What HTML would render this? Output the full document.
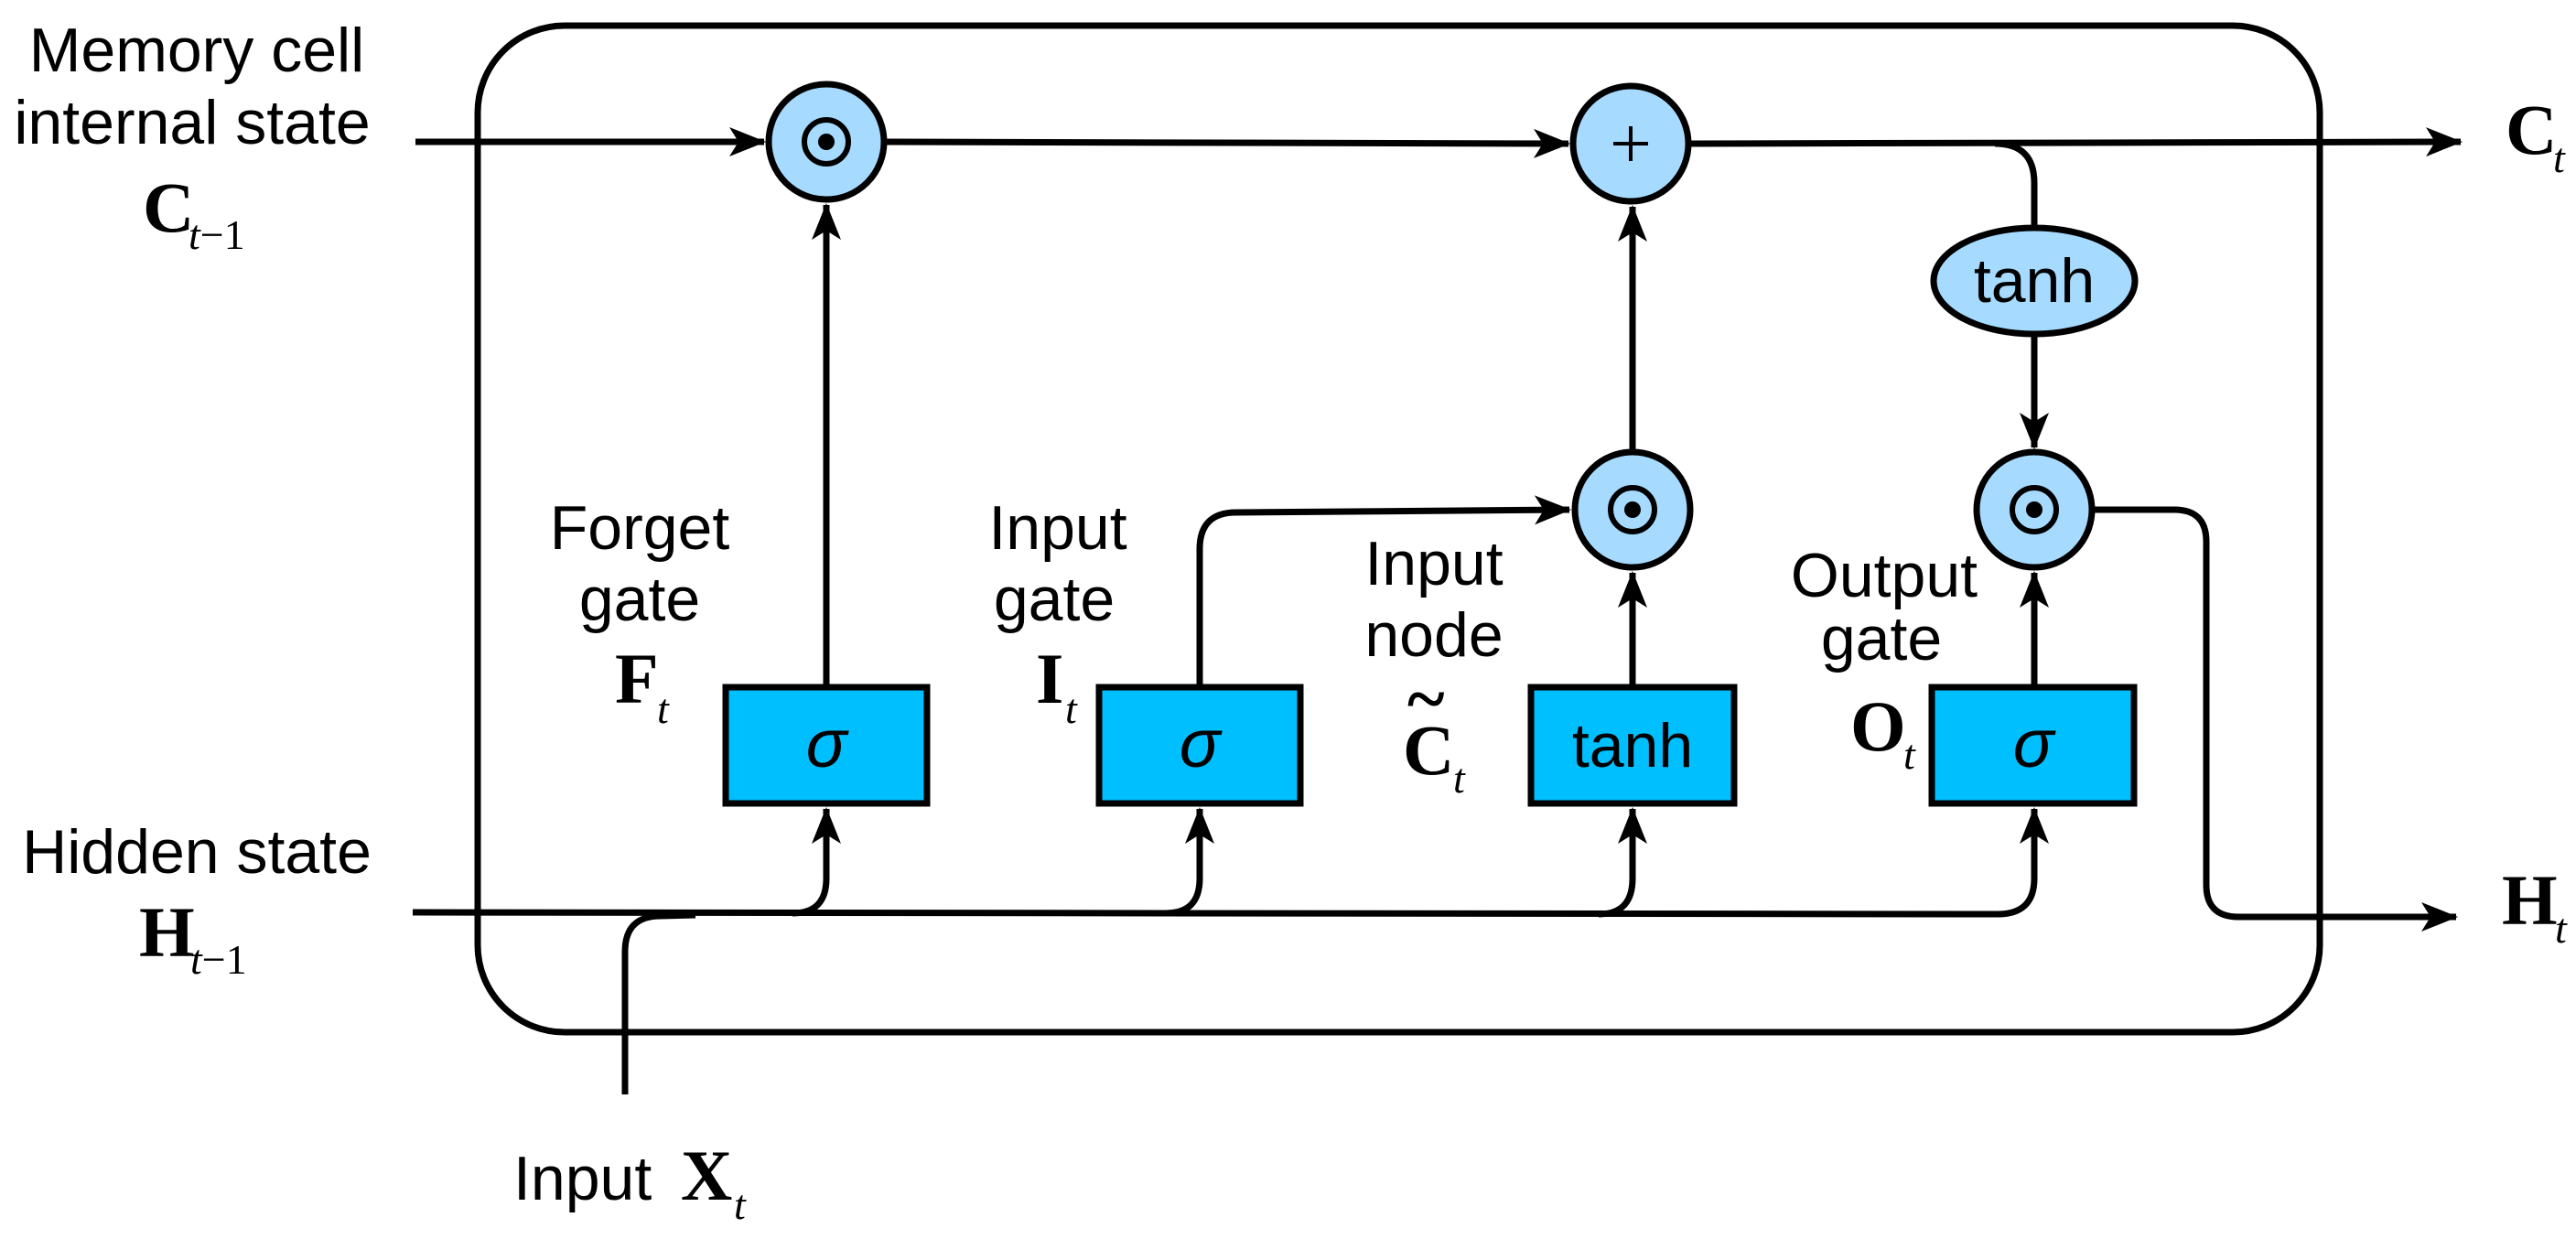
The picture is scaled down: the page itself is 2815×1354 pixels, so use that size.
<!DOCTYPE html>
<html><head><meta charset="utf-8"><style>
html,body{margin:0;padding:0;background:#fff;}
svg{display:block;}
.l{font-family:"Liberation Sans",Arial,sans-serif;font-size:68px;fill:#000;}
.m{font-family:"Liberation Serif",serif;font-weight:bold;font-size:78px;fill:#000;}
.s{font-family:"Liberation Serif",serif;font-style:italic;font-size:46px;fill:#000;}
.ln{fill:none;stroke:#000;stroke-width:7;}
</style></head><body>
<svg width="2815" height="1354" viewBox="0 0 2815 1354" xmlns="http://www.w3.org/2000/svg">
<defs>
<marker id="a" markerUnits="userSpaceOnUse" markerWidth="50" markerHeight="40" viewBox="-40 -20 44 40" refX="0" refY="0" orient="auto">
<path d="M2 0 L-38 -16 L-28 0 L-38 16 Z" fill="#000"/>
</marker>
</defs>
<rect x="522" y="28" width="2013" height="1100" rx="95" ry="95" class="ln"/>

<path class="ln" d="M454 155 L835 155" marker-end="url(#a)"/>
<path class="ln" d="M966 155 L1714 157" marker-end="url(#a)"/>
<path class="ln" d="M1847 157 L2689 155" marker-end="url(#a)"/>
<path class="ln" d="M2180 157 Q2223 157 2223 200 L2223 249"/>

<path class="ln" d="M903 751 L903 224" marker-end="url(#a)"/>
<path class="ln" d="M1784 492 L1784 226" marker-end="url(#a)"/>
<path class="ln" d="M1784 751 L1784 626" marker-end="url(#a)"/>
<path class="ln" d="M2223 365 L2223 489" marker-end="url(#a)"/>
<path class="ln" d="M2223 751 L2223 626" marker-end="url(#a)"/>
<path class="ln" d="M1311 751 L1311 600 Q1311 560 1351 560 L1715 557" marker-end="url(#a)"/>

<path class="ln" d="M451 997 L2183 999 Q2223 999 2223 960 L2223 884" marker-end="url(#a)"/>
<path class="ln" d="M683 1196 L683 1040 Q683 1001 722 1001 L760 1000"/>
<path class="ln" d="M866 998 Q903 998 903 960 L903 884" marker-end="url(#a)"/>
<path class="ln" d="M1274 998 Q1311 998 1311 960 L1311 884" marker-end="url(#a)"/>
<path class="ln" d="M1747 999 Q1784 999 1784 960 L1784 884" marker-end="url(#a)"/>

<path class="ln" d="M2288 557 L2376 557 Q2411 557 2411 592 L2411 967 Q2411 1002 2446 1002 L2684 1002" marker-end="url(#a)"/>

<g stroke="#000" stroke-width="7" fill="#A6DBFF">
<circle cx="903" cy="155" r="63"/>
<circle cx="1782" cy="157" r="63"/>
<circle cx="1784" cy="557" r="63"/>
<circle cx="2223" cy="557" r="63"/>
<ellipse cx="2223" cy="307" rx="110" ry="58"/>
</g>
<g stroke="#000" stroke-width="6" fill="none">
<circle cx="903" cy="155" r="24"/>
<circle cx="1784" cy="557" r="24"/>
<circle cx="2223" cy="557" r="24"/>
<path d="M1782 138 L1782 176 M1763 157 L1801 157" stroke-width="4"/>
</g>
<g fill="#000">
<circle cx="903" cy="155" r="9"/>
<circle cx="1784" cy="557" r="9"/>
<circle cx="2223" cy="557" r="9"/>
</g>

<g stroke="#000" stroke-width="7" fill="#00BFFF">
<rect x="793" y="751" width="220" height="127"/>
<rect x="1201" y="751" width="220" height="127"/>
<rect x="1673" y="751" width="222" height="127"/>
<rect x="2111" y="751" width="221" height="127"/>
</g>
<g class="l" text-anchor="middle">
<text x="903" y="838" font-style="italic" font-size="74">σ</text>
<text x="1311" y="838" font-style="italic" font-size="74">σ</text>
<text x="1784" y="838" font-size="68">tanh</text>
<text x="2222" y="838" font-style="italic" font-size="74">σ</text>
<text x="2223" y="330">tanh</text>
</g>

<g class="l" text-anchor="middle">
<text x="215" y="78">Memory cell</text>
<text x="210" y="157">internal state</text>
<text x="215" y="954">Hidden state</text>
<text x="699" y="600">Forget</text>
<text x="699" y="678">gate</text>
<text x="1156" y="600">Input</text>
<text x="1152" y="678">gate</text>
<text x="1567" y="639">Input</text>
<text x="1567" y="717">node</text>
<text x="2059" y="652">Output</text>
<text x="2056" y="721">gate</text>
</g>
<text class="l" x="561" y="1311">Input</text>

<text class="m" x="156" y="253">C</text><text class="s" x="206" y="272">t<tspan font-style="normal">−1</tspan></text>
<text class="m" x="152" y="1045">H</text><text class="s" x="208" y="1064">t<tspan font-style="normal">−1</tspan></text>
<text class="m" x="672" y="768">F</text><text class="s" x="718" y="790">t</text>
<text class="m" x="1132" y="768">I</text><text class="s" x="1164" y="790">t</text>
<text class="m" x="1533" y="846">C</text><text class="s" x="1588" y="866">t</text>
<text class="m" x="1538" y="790" font-size="60">~</text>
<text class="m" x="2022" y="820">O</text><text class="s" x="2080" y="840">t</text>
<text class="m" x="2738" y="168">C</text><text class="s" x="2790" y="188">t</text>
<text class="m" x="2734" y="1010">H</text><text class="s" x="2792" y="1030">t</text>
<text class="m" x="744" y="1311">X</text><text class="s" x="802" y="1332">t</text>
</svg>
</body></html>
